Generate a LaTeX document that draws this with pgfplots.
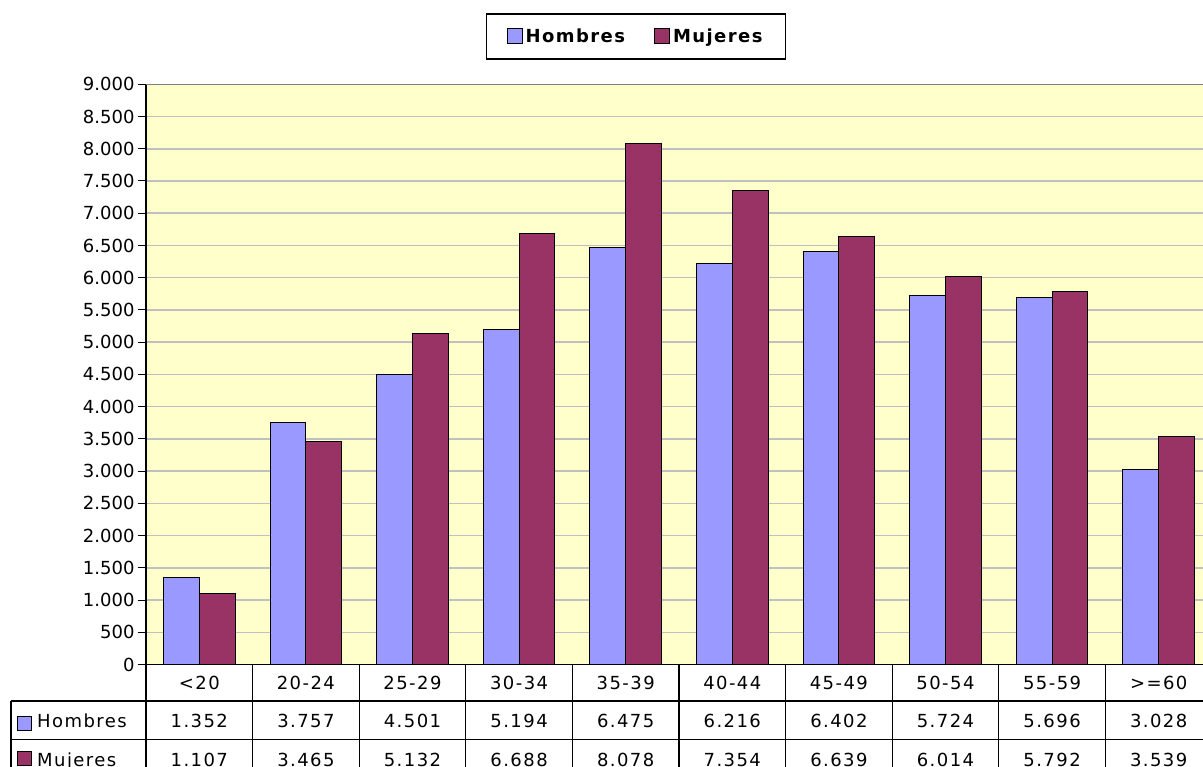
\documentclass[border=0pt]{standalone}
\usepackage{fontspec}
\setmainfont{DejaVu Sans}
\newfontfamily\spaced[LetterSpace=8]{DejaVu Sans}
\usepackage{pgfplots}
\pgfplotsset{compat=1.18}
\definecolor{hom}{HTML}{9999FF}
\definecolor{muj}{HTML}{993366}
\definecolor{bg}{HTML}{FFFFCC}
\definecolor{grd}{HTML}{C0C0C0}
\definecolor{topg}{HTML}{808080}

\begin{document}
\begin{tikzpicture}[x=1pt,y=1pt,font=\fontsize{18}{21}\selectfont]
\useasboundingbox (0,0) rectangle (1203,767);
\begin{axis}[
  at={(146pt,102.5pt)}, anchor=south west,
  scale only axis, width=1066pt, height=580.2pt,
  ybar=0pt, bar width=35.8pt,
  xmin=-0.5, xmax=9.5, ymin=0, ymax=9000,
  xtick=\empty,
  ytick distance=500,
  axis x line*=bottom, axis y line*=left,
  axis line style={-, black, line width=1.2pt},
  axis background/.style={fill=bg},
  tick align=outside, major tick length=8pt,
  ytick style={black, line width=1pt},
  ymajorgrids, major grid style={grd, line width=1.5pt},
  yticklabel style={/pgf/number format/.cd, fixed, 1000 sep={.}, assume math mode=true},
  legend style={at={(0.4597,1.0824)}, anchor=center, legend columns=2,
    draw=black, line width=1.2pt,
    font=\fontsize{18}{21}\selectfont\spaced\bfseries,
    inner xsep=20pt, inner ysep=13pt,
    nodes={inner xsep=3pt},
    /tikz/every even column/.append style={column sep=26pt}},
  legend image code/.code={\draw[#1, line width=1pt] (0pt,-7.5pt) rectangle (15pt,7.5pt);},
]
\addplot[fill=hom, draw=black, line width=1pt] coordinates {
  (0,1352) (1,3757) (2,4501) (3,5194) (4,6475)
  (5,6216) (6,6402) (7,5724) (8,5696) (9,3028)};
\addplot[fill=muj, draw=black, line width=1pt] coordinates {
  (0,1107) (1,3465) (2,5132) (3,6688) (4,8078)
  (5,7354) (6,6639) (7,6014) (8,5792) (9,3539)};
\legend{Hombres,Mujeres}
\draw[topg, line width=1.5pt] (rel axis cs:0,1) -- (rel axis cs:1,1);
\end{axis}
% data table
\draw[line width=1.2pt] (11,66) -- (1215,66);
\draw[line width=1.2pt] (11,27.5) -- (1215,27.5);
\draw[line width=1.2pt] (11,66) -- (11,-20);
\foreach \k in {0,...,10} \draw[line width=1.2pt] (146+106.6*\k,102.5) -- ++(0,-130);
\begin{scope}[every node/.style={font=\fontsize{18}{21}\selectfont\spaced}]
\foreach \c [count=\i from 0] in {<20,20-24,25-29,30-34,35-39,40-44,45-49,50-54,55-59,>=60}
  \node[anchor=base] at (199.3+106.6*\i,77) {\c};
\foreach \c [count=\i from 0] in {1.352,3.757,4.501,5.194,6.475,6.216,6.402,5.724,5.696,3.028}
  \node[anchor=base] at (199.3+106.6*\i,39.7) {\c};
\foreach \c [count=\i from 0] in {1.107,3.465,5.132,6.688,8.078,7.354,6.639,6.014,5.792,3.539}
  \node[anchor=base] at (199.3+106.6*\i,0.5) {\c};
\node[anchor=base west, inner sep=0pt] at (37,39.7) {Hombres};
\node[anchor=base west, inner sep=0pt] at (37,0.5) {Mujeres};
\end{scope}
\draw[fill=hom, line width=1pt] (17,36) rectangle (31,50);
\draw[fill=muj, line width=1pt] (17,1) rectangle (31,15);
\end{tikzpicture}
\end{document}
